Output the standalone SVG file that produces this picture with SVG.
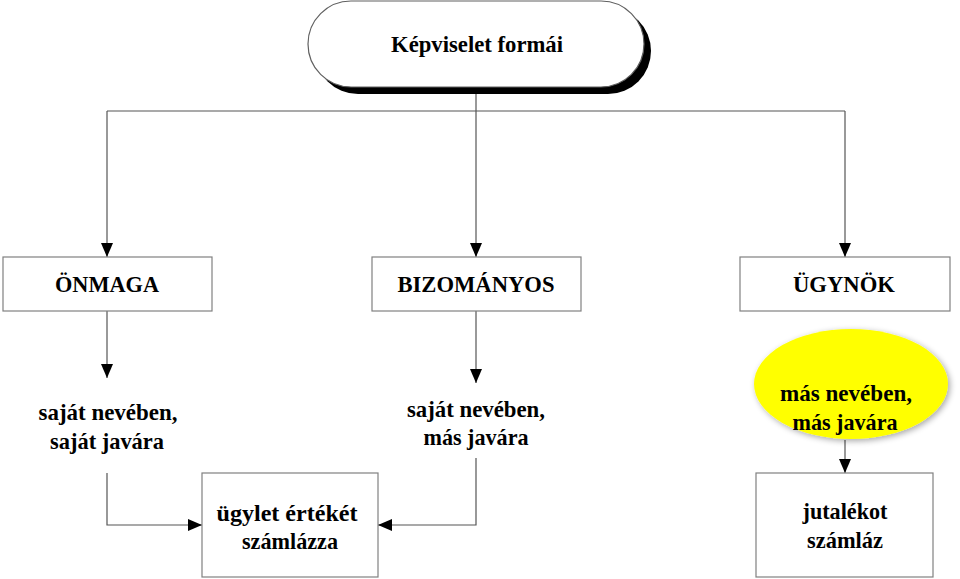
<svg xmlns="http://www.w3.org/2000/svg" width="960" height="579" viewBox="0 0 960 579">
<style>
.box{fill:#fff;stroke:#808080;stroke-width:1.2}
.t{font-family:"Liberation Serif","Times New Roman",serif;font-weight:bold;font-size:24px;fill:#000;text-anchor:middle}
.c{fill:none;stroke:#555;stroke-width:1.2}
</style>
<defs>
<marker id="ah" viewBox="0 0 14 12" refX="14" refY="6" markerWidth="14" markerHeight="12" markerUnits="userSpaceOnUse" orient="auto">
<path d="M0,0 L14,6 L0,12 Z" fill="#000"/>
</marker>
<filter id="glow" x="-20%" y="-20%" width="140%" height="140%">
<feGaussianBlur in="SourceAlpha" stdDeviation="3"/>
<feOffset dx="2" dy="2"/>
<feComponentTransfer><feFuncA type="linear" slope="0.35"/></feComponentTransfer>
<feMerge><feMergeNode/><feMergeNode in="SourceGraphic"/></feMerge>
</filter>
</defs>
<rect width="960" height="579" fill="#fff"/>
<g id="connectors">
<path class="c" d="M476,86 V111"/>
<path class="c" d="M107,111 H845"/>
<path class="c" d="M107,111 V257" marker-end="url(#ah)"/>
<path class="c" d="M476,111 V257" marker-end="url(#ah)"/>
<path class="c" d="M845,111 V257" marker-end="url(#ah)"/>
<path class="c" d="M107,311 V378" marker-end="url(#ah)"/>
<path class="c" d="M476,311 V383" marker-end="url(#ah)"/>
<path class="c" d="M107,473 V525 H202" marker-end="url(#ah)"/>
<path class="c" d="M476,458 V525 H378" marker-end="url(#ah)"/>
<path class="c" d="M845,440 V473" marker-end="url(#ah)"/>
</g>
<g id="title">
<rect x="315" y="8" width="336" height="86" rx="43" ry="43" fill="#000"/>
<rect x="308" y="1" width="336" height="86" rx="43" ry="43" fill="#fff" stroke="#606060" stroke-width="1.2"/>
<text class="t" x="477" y="52" textLength="172" lengthAdjust="spacingAndGlyphs">Képviselet formái</text>
</g>
<g id="onmaga">
<rect class="box" x="3" y="257" width="209" height="54"/>
<text class="t" x="107" y="292" textLength="104" lengthAdjust="spacingAndGlyphs">ÖNMAGA</text>
</g>
<g id="bizomanyos">
<rect class="box" x="372" y="257" width="209" height="54"/>
<text class="t" x="476" y="292" textLength="157" lengthAdjust="spacingAndGlyphs">BIZOMÁNYOS</text>
</g>
<g id="ugynok">
<rect class="box" x="740" y="257" width="210" height="54"/>
<text class="t" x="844" y="292" textLength="102" lengthAdjust="spacingAndGlyphs">ÜGYNÖK</text>
</g>
<g id="sajat-sajat">
<text class="t" x="108" y="420" textLength="139" lengthAdjust="spacingAndGlyphs">saját nevében,</text>
<text class="t" x="107" y="449" textLength="114" lengthAdjust="spacingAndGlyphs">saját javára</text>
</g>
<g id="sajat-mas">
<text class="t" x="476" y="417" textLength="138" lengthAdjust="spacingAndGlyphs">saját nevében,</text>
<text class="t" x="476" y="445" textLength="105" lengthAdjust="spacingAndGlyphs">más javára</text>
</g>
<g id="mas-mas">
<ellipse cx="851" cy="384" rx="97" ry="55" fill="#ffff00" filter="url(#glow)"/>
<text class="t" x="846" y="401" textLength="132" lengthAdjust="spacingAndGlyphs">más nevében,</text>
<text class="t" x="845" y="430" textLength="105" lengthAdjust="spacingAndGlyphs">más javára</text>
</g>
<g id="ugylet">
<rect class="box" x="202" y="473" width="176" height="104"/>
<text class="t" x="287" y="521" textLength="141" lengthAdjust="spacingAndGlyphs">ügylet értékét</text>
<text class="t" x="290" y="549" textLength="96" lengthAdjust="spacingAndGlyphs">számlázza</text>
</g>
<g id="jutalek">
<rect class="box" x="756" y="473" width="177" height="104"/>
<text class="t" x="845" y="519" textLength="85" lengthAdjust="spacingAndGlyphs">jutalékot</text>
<text class="t" x="845" y="548" textLength="76" lengthAdjust="spacingAndGlyphs">számláz</text>
</g>
</svg>
